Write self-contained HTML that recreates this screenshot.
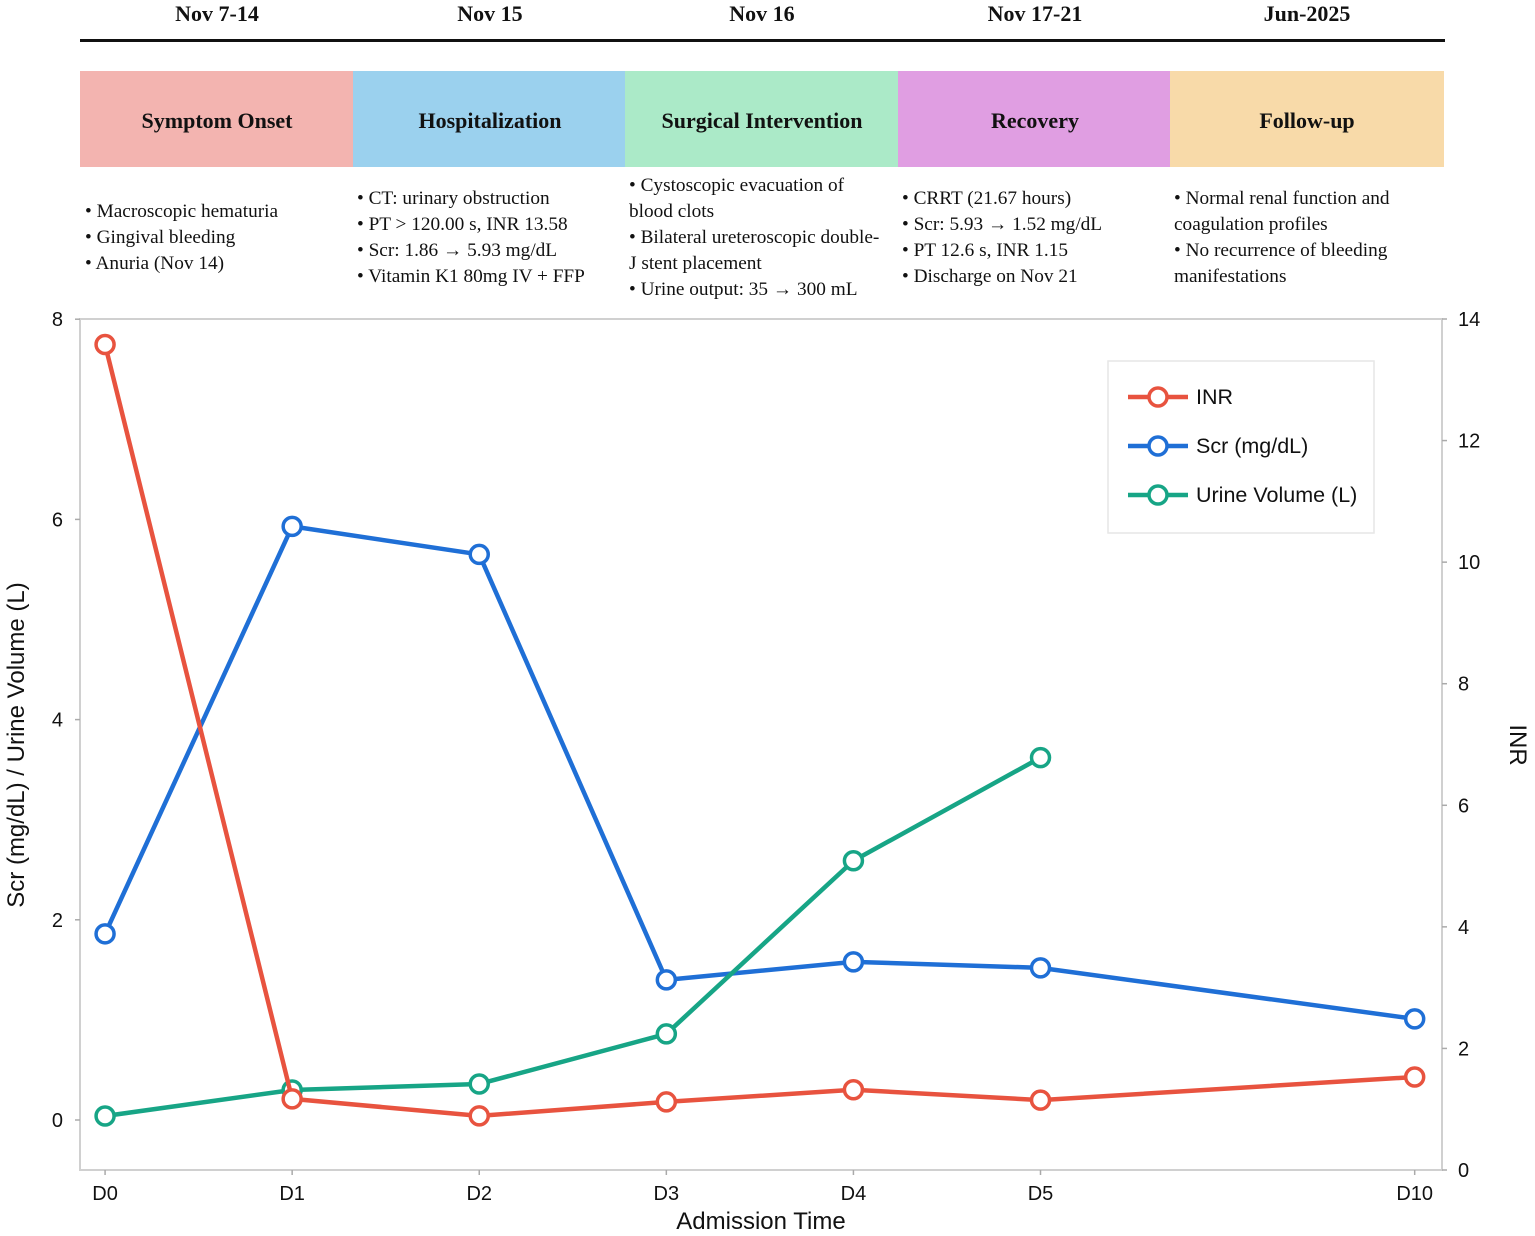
<!DOCTYPE html>
<html><head><meta charset="utf-8">
<style>
html,body{margin:0;padding:0;background:#fff;}
svg{display:block;}
.hd{font-family:"Liberation Serif",serif;font-weight:bold;font-size:22px;fill:#111;}
.bt{font-family:"Liberation Serif",serif;font-weight:bold;font-size:22px;fill:#111;}
.tx{font-family:"Liberation Serif",serif;font-size:19.3px;fill:#111;}
.tk{font-family:"Liberation Sans",sans-serif;font-size:20px;fill:#111;}
.at{font-family:"Liberation Sans",sans-serif;font-size:24px;fill:#111;}
.lg{font-family:"Liberation Sans",sans-serif;font-size:21.5px;fill:#111;}
</style></head>
<body>
<svg id="root" width="1535" height="1236" viewBox="0 0 1535 1236" xmlns="http://www.w3.org/2000/svg">
<g>
<text class="hd" x="217" y="21" text-anchor="middle">Nov 7-14</text>
<text class="hd" x="490" y="21" text-anchor="middle">Nov 15</text>
<text class="hd" x="762" y="21" text-anchor="middle">Nov 16</text>
<text class="hd" x="1035" y="21" text-anchor="middle">Nov 17-21</text>
<text class="hd" x="1307" y="21" text-anchor="middle">Jun-2025</text>
<rect x="80" y="39" width="1365" height="3" fill="#111"/>
</g>
<g>
<rect x="80" y="71" width="273" height="96" fill="#f3b4b0"/>
<rect x="353" y="71" width="272" height="96" fill="#9bd1ee"/>
<rect x="625" y="71" width="273" height="96" fill="#abeac8"/>
<rect x="898" y="71" width="272" height="96" fill="#e09ee2"/>
<rect x="1170" y="71" width="274" height="96" fill="#f8daa9"/>
<text class="bt" x="217" y="128" text-anchor="middle">Symptom Onset</text>
<text class="bt" x="490" y="128" text-anchor="middle">Hospitalization</text>
<text class="bt" x="762" y="128" text-anchor="middle">Surgical Intervention</text>
<text class="bt" x="1035" y="128" text-anchor="middle">Recovery</text>
<text class="bt" x="1307" y="128" text-anchor="middle">Follow-up</text>
</g>
<g>
<text class="tx" x="85" y="217">• Macroscopic hematuria</text>
<text class="tx" x="85" y="243">• Gingival bleeding</text>
<text class="tx" x="85" y="269">• Anuria (Nov 14)</text>
<text class="tx" x="357" y="204">• CT: urinary obstruction</text>
<text class="tx" x="357" y="230">• PT &gt; 120.00 s, INR 13.58</text>
<text class="tx" x="357" y="256">• Scr: 1.86 → 5.93 mg/dL</text>
<text class="tx" x="357" y="282">• Vitamin K1 80mg IV + FFP</text>
<text class="tx" x="629" y="191">• Cystoscopic evacuation of</text>
<text class="tx" x="629" y="217">blood clots</text>
<text class="tx" x="629" y="243">• Bilateral ureteroscopic double-</text>
<text class="tx" x="629" y="269">J stent placement</text>
<text class="tx" x="629" y="295">• Urine output: 35 → 300 mL</text>
<text class="tx" x="902" y="204">• CRRT (21.67 hours)</text>
<text class="tx" x="902" y="230">• Scr: 5.93 → 1.52 mg/dL</text>
<text class="tx" x="902" y="256">• PT 12.6 s, INR 1.15</text>
<text class="tx" x="902" y="282">• Discharge on Nov 21</text>
<text class="tx" x="1174" y="204">• Normal renal function and</text>
<text class="tx" x="1174" y="230">coagulation profiles</text>
<text class="tx" x="1174" y="256">• No recurrence of bleeding</text>
<text class="tx" x="1174" y="282">manifestations</text>
</g>
<g id="chart"></g>
</svg>
<script>
const categories = ["D0","D1","D2","D3","D4","D5","D10"];
const xPos = [0,1,2,3,4,5,7];
const inrValues = [13.58,1.17,0.89,1.12,1.32,1.15,1.53];
const scrValues = [1.86,5.93,5.65,1.40,1.58,1.52,1.01];
const urineValues = [0.04,0.30,0.36,0.86,2.59,3.62];
const leftTicks = [0,2,4,6,8];
const rightTicks = [0,2,4,6,8,10,12,14];

const NS="http://www.w3.org/2000/svg";
const L=80,R=1442,T=319,B=1170;
const xmin=-0.134,xmax=7.146;
function xs(v){return L+(v-xmin)/(xmax-xmin)*(R-L);}
function yl(v){return 1120-v*100.1;}
function yr(v){return B-v*(B-T)/14;}
const g=document.getElementById('chart');
function mk(tag,attrs,parent){const e=document.createElementNS(NS,tag);for(const k in attrs)e.setAttribute(k,attrs[k]);(parent||g).appendChild(e);return e;}

const frame=mk('rect',{x:L,y:T,width:R-L,height:B-T,fill:'none',stroke:'#d0d0d0','stroke-width':2});



leftTicks.forEach(t=>{
  const y=yl(t);
  const tl=mk('line',{x1:L-5,x2:L,y1:y,y2:y,stroke:'#aaa','stroke-width':1.5});
  
  
  const tx=mk('text',{x:L-17,y:y+7,'text-anchor':'end',class:'tk'});
  tx.textContent=t;
  
  
});
rightTicks.forEach(t=>{
  const y=yr(t);
  const tl=mk('line',{x1:R,x2:R+5,y1:y,y2:y,stroke:'#aaa','stroke-width':1.5});
  
  
  const tx=mk('text',{x:R+16,y:y+7,'text-anchor':'start',class:'tk'});
  tx.textContent=t;
  
  
});
categories.forEach((c,i)=>{
  const x=xs(xPos[i]);
  const tl=mk('line',{x1:x,x2:x,y1:B,y2:B+5,stroke:'#aaa','stroke-width':1.5});
  
  
  const tx=mk('text',{x:x,y:B+30,'text-anchor':'middle',class:'tk'});
  tx.textContent=c;
  
  
});
const xt=mk('text',{x:761,y:1229,'text-anchor':'middle',class:'at'});
xt.textContent='Admission Time';


const ylt=mk('text',{x:0,y:0,'text-anchor':'middle',class:'at',transform:'translate(24,745) rotate(-90)'});
ylt.textContent='Scr (mg/dL) / Urine Volume (L)';


const yrt=mk('text',{x:0,y:0,'text-anchor':'middle',class:'at',transform:'translate(1510,745) rotate(90)'});
yrt.textContent='INR';



function series(vals,yfn,color,name){
  const pts=vals.map((v,i)=>[xs(xPos[i]),yfn(v)]);
  const pl=mk('polyline',{points:pts.map(p=>p.join(',')).join(' '),fill:'none',stroke:color,'stroke-width':4.5,'stroke-linejoin':'round'});
  
  
  pts.forEach(p=>{
    const c=mk('circle',{cx:p[0],cy:p[1],r:9,fill:'#fff',stroke:color,'stroke-width':3.5});
    
    
  });
}
series(scrValues,yl,'#1f6fd6','scr');
series(urineValues,yl,'#17a586','urine');
series(inrValues,yr,'#e8533f','inr');

const lg=mk('g',{});


const lb=mk('rect',{x:1108,y:361,width:266,height:172,fill:'#fff',stroke:'#e6e6e6','stroke-width':1.5},lg);


[['INR','#e8533f'],['Scr (mg/dL)','#1f6fd6'],['Urine Volume (L)','#17a586']].forEach((e,i)=>{
  const y=397+i*49;
  const ln=mk('line',{x1:1128,x2:1188,y1:y,y2:y,stroke:e[1],'stroke-width':4.5},lg);
  
  
  const c=mk('circle',{cx:1158,cy:y,r:9,fill:'#fff',stroke:e[1],'stroke-width':3.5},lg);
  
  
  const t=mk('text',{x:1196,y:y+7,class:'lg'},lg);
  t.textContent=e[0];
  
  
});
</script>
</body></html>
